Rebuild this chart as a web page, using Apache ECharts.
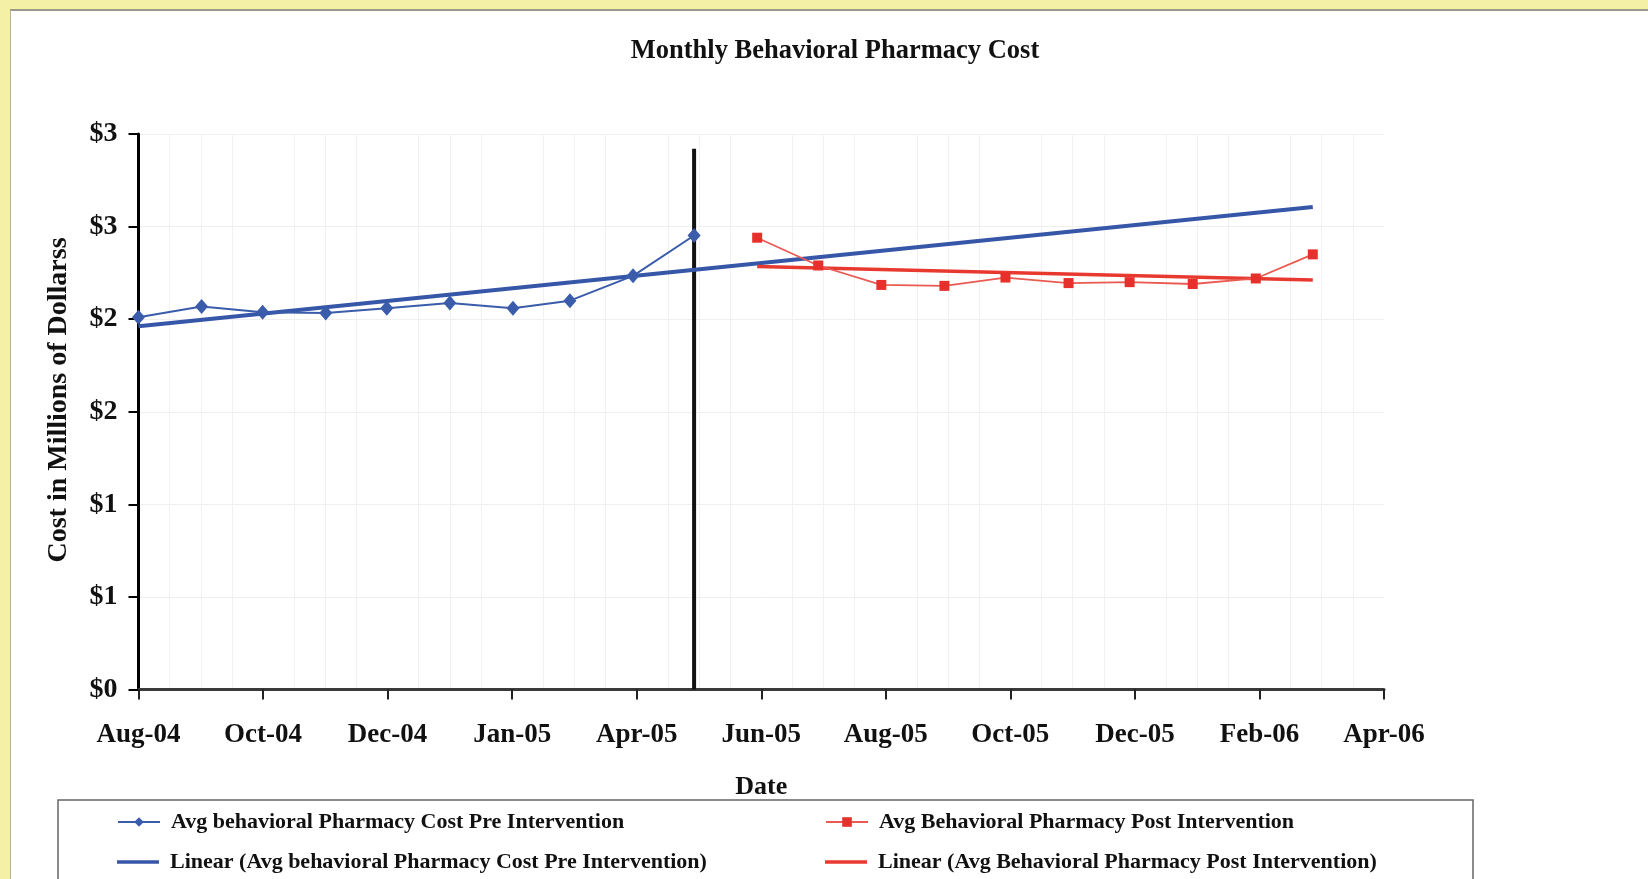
<!DOCTYPE html>
<html>
<head>
<meta charset="utf-8">
<script src="https://cdn.jsdelivr.net/npm/echarts@6/dist/echarts.min.js"></script>
<style>
  html, body { margin: 0; padding: 0; width: 1648px; height: 879px; overflow: hidden; background: #f4f0a6; }
  #panel { position: absolute; left: 10px; top: 9px; width: 1638px; height: 870px; background: #ffffff;
           border-top: 2px solid #9a9a8a; border-left: 1px solid #b5b39a; box-sizing: border-box; }
  #chart { position: absolute; left: 0; top: 0; width: 1648px; height: 879px; }
</style>
</head>
<body>
<div id="panel"></div>
<div id="chart"></div>
<script>
// ---------------- data ----------------
const axisStart = '2004-08-01';
const daysPerUnit = 30.6;
const xTickLabels = ['Aug-04', 'Oct-04', 'Dec-04', 'Jan-05', 'Apr-05', 'Jun-05', 'Aug-05', 'Oct-05', 'Dec-05', 'Feb-06', 'Apr-06'];
const yTickValues = [0, 0.5, 1, 1.5, 2, 2.5, 3];

const preDates = ['2004-08-01', '2004-09-01', '2004-10-01', '2004-11-01', '2004-12-01',
                  '2005-01-01', '2005-02-01', '2005-03-01', '2005-04-01', '2005-05-01'];
const preValues = [2.010, 2.068, 2.037, 2.034, 2.059, 2.088, 2.059, 2.100, 2.234, 2.452];

const postDates = ['2005-06-01', '2005-07-01', '2005-08-01', '2005-09-01', '2005-10-01',
                   '2005-11-01', '2005-12-01', '2006-01-01', '2006-02-01', '2006-03-01'];
const postValues = [2.44, 2.29, 2.185, 2.18, 2.225, 2.195, 2.2, 2.19, 2.22, 2.35];

const preTrendDates = ['2004-08-01', '2006-03-01'];
const preTrendValues = [1.962, 2.606];
const postTrendDates = ['2005-06-01', '2006-03-01'];
const postTrendValues = [2.285, 2.212];

const interventionDates = ['2005-05-01', '2005-05-01'];
const interventionValues = [0, 2.92];

const names = {
  pre: 'Avg behavioral Pharmacy Cost Pre Intervention',
  post: 'Avg Behavioral Pharmacy Post Intervention',
  preTrend: 'Linear (Avg behavioral Pharmacy Cost Pre Intervention)',
  postTrend: 'Linear (Avg Behavioral Pharmacy Post Intervention)'
};

// ---------------- helpers ----------------
const t0 = Date.parse(axisStart + 'T00:00:00Z');
function toX(d) { return (Date.parse(d + 'T00:00:00Z') - t0) / 86400000 / daysPerUnit; }
function pairs(ds, vs) { return ds.map((d, i) => [toX(d), vs[i]]); }

const FONT = 'Liberation Serif';
const BLUE = '#3b5caa';
const BLUE_TREND = '#3656a8';
const RED = '#e5302b';
const RED_LINE = '#ea5a52';
const RED_TREND = '#e8392f';

const chart = echarts.init(document.getElementById('chart'), null, { renderer: 'canvas' });

function legendAt(item, left, top, isTrend) {
  return {
    data: [item], left: left, top: top, orient: 'horizontal',
    itemWidth: 42, itemHeight: isTrend ? 3.5 : 12, selectedMode: false,
    textStyle: { fontFamily: FONT, fontWeight: 'bold', fontSize: 22, color: '#111', padding: [0, 0, 0, 6] }
  };
}

const option = {
  backgroundColor: 'transparent',
  animation: false,
  title: {
    text: 'Monthly Behavioral Pharmacy Cost',
    left: 830, top: 33, textAlign: 'center',
    textStyle: { fontFamily: FONT, fontWeight: 'bold', fontSize: 26.5, color: '#111' }
  },
  grid: { left: 138.5, right: 264, top: 134, bottom: 189.4, containLabel: false },
  legend: [
    legendAt(names.pre, 112, 806, false),
    legendAt({ name: names.preTrend, icon: 'rect' }, 112, 846, true),
    legendAt(names.post, 820, 806, false),
    legendAt({ name: names.postTrend, icon: 'rect' }, 820, 846, true)
  ],
  xAxis: {
    type: 'value', min: 0, max: 20, interval: 2,
    name: 'Date', nameLocation: 'middle', nameGap: 85,
    nameTextStyle: { fontFamily: FONT, fontWeight: 'bold', fontSize: 26, color: '#111' },
    axisLine: { show: true, onZero: false, lineStyle: { color: '#3a3a3a', width: 3 } },
    axisTick: { show: true, length: 10, lineStyle: { color: '#222', width: 2 } },
    axisLabel: {
      margin: 32, fontFamily: FONT, fontWeight: 'bold', fontSize: 27, color: '#111',
      formatter: v => xTickLabels[Math.round(v / 2)] || ''
    },
    splitLine: { show: false },
    minorTick: { show: false, splitNumber: 4 },
    minorSplitLine: { show: true, lineStyle: { color: '#f1f1f1', width: 1 } }
  },
  yAxis: {
    type: 'value', min: 0, max: 3, interval: 0.5,
    axisLine: { show: true, lineStyle: { color: '#000', width: 3 } },
    axisTick: { show: true, length: 10, lineStyle: { color: '#000', width: 2 } },
    axisLabel: {
      margin: 21, fontFamily: FONT, fontWeight: 'bold', fontSize: 28, color: '#111',
      formatter: v => '$' + Math.round(v)
    },
    splitLine: { show: true, lineStyle: { color: '#efefef', width: 1 } }
  },
  graphic: [
    {
      type: 'text', x: 59, y: 400, rotation: Math.PI / 2,
      style: { text: 'Cost in Millions of Dollarss', fill: '#111', font: 'bold 28px "Liberation Serif"',
               align: 'center', verticalAlign: 'middle' }
    },
    {
      type: 'rect', z: -1, silent: true,
      shape: { x: 58, y: 800, width: 1415, height: 90 },
      style: { fill: 'transparent', stroke: '#666', lineWidth: 1.5 }
    }
  ],
  series: [
    {
      name: 'intervention', type: 'line', data: pairs(interventionDates, interventionValues),
      symbol: 'none', lineStyle: { color: '#111', width: 4 }, z: 1, silent: true
    },
    {
      name: names.preTrend, type: 'line', data: pairs(preTrendDates, preTrendValues),
      symbol: 'none', lineStyle: { color: BLUE_TREND, width: 4 }, itemStyle: { color: BLUE_TREND }, z: 2
    },
    {
      name: names.postTrend, type: 'line', data: pairs(postTrendDates, postTrendValues),
      symbol: 'none', lineStyle: { color: RED_TREND, width: 3.5 }, itemStyle: { color: RED_TREND }, z: 2
    },
    {
      name: names.pre, type: 'line', data: pairs(preDates, preValues),
      symbol: 'diamond', symbolSize: [13, 15], showAllSymbol: true,
      lineStyle: { color: BLUE, width: 2 }, itemStyle: { color: BLUE }, z: 3
    },
    {
      name: names.post, type: 'line', data: pairs(postDates, postValues),
      symbol: 'rect', symbolSize: 10, showAllSymbol: true,
      lineStyle: { color: RED_LINE, width: 1.8 }, itemStyle: { color: RED }, z: 3
    }
  ]
};
chart.setOption(option);
</script>
</body>
</html>
